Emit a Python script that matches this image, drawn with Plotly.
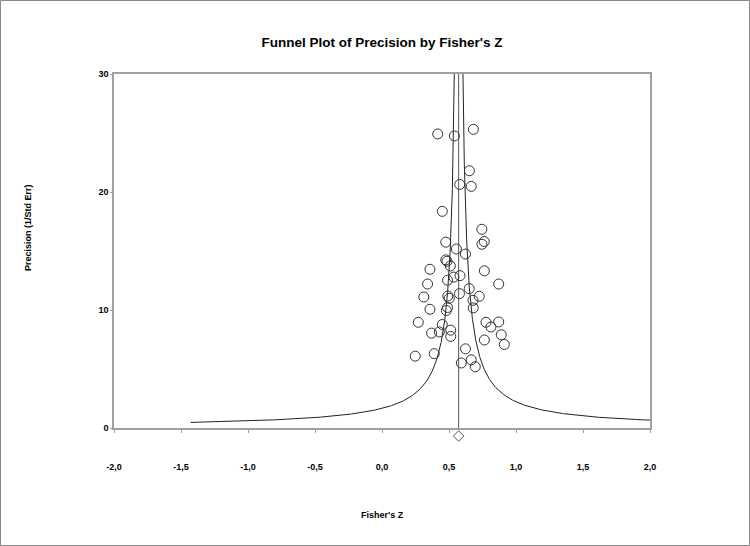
import numpy as np
import plotly.graph_objects as go

# Study effects (Fisher's Z) and precision (1/SE)
fisher_z = [0.416, 0.540, 0.682, 0.652, 0.580, 0.666, 0.450, 0.745, 0.763, 0.746,
            0.476, 0.555, 0.623, 0.476, 0.485, 0.510, 0.358, 0.764, 0.582, 0.536,
            0.489, 0.340, 0.871, 0.312, 0.491, 0.502, 0.578, 0.651, 0.726, 0.679,
            0.681, 0.358, 0.489, 0.480, 0.271, 0.450, 0.428, 0.370, 0.513, 0.513,
            0.776, 0.813, 0.871, 0.890, 0.764, 0.913, 0.390, 0.248, 0.623, 0.592,
            0.666, 0.696]
precision = [24.92, 24.75, 25.31, 21.80, 20.64, 20.48, 18.36, 16.84, 15.80, 15.57,
             15.75, 15.17, 14.74, 14.25, 14.13, 13.73, 13.45, 13.32, 12.91, 12.79,
             12.52, 12.20, 12.20, 11.10, 11.18, 10.99, 11.39, 11.81, 11.16, 10.82,
             10.18, 10.06, 10.21, 9.96, 8.96, 8.77, 8.14, 8.04, 8.29, 7.76,
             8.96, 8.56, 8.99, 7.90, 7.46, 7.08, 6.30, 6.09, 6.71, 5.51,
             5.78, 5.19]

pooled_z = 0.572
funnel_k = 0.95
diamond_y = -0.68

x_ticks = [-2.0, -1.5, -1.0, -0.5, 0.0, 0.5, 1.0, 1.5, 2.0]
x_tick_text = ['-2,0', '-1,5', '-1,0', '-0,5', '0,0', '0,5', '1,0', '1,5', '2,0']
y_ticks = [0, 10, 20, 30]

# funnel limits: pooled +/- k / precision
p_grid = np.geomspace(0.475, 32, 400)
left_z = pooled_z - funnel_k / p_grid
right_z = pooled_z + funnel_k / p_grid

FONT = 'Arial, "Liberation Sans", sans-serif'
AXIS_GRAY = '#a0a0a0'

W, H = 750, 546
ml, mr, mt, mb = 114, 100, 74, 98
pw, ph = W - ml - mr, H - mt - mb
gap = 20  # extra strip under the axis for the pooled-estimate diamond
y_lo = ph - gap  # pixel height of the main y axis
y_bottom_px = mt + ph  # paper bottom in pixels

fig = go.Figure()

fig.add_trace(go.Scatter(x=left_z, y=p_grid, mode='lines',
                         line=dict(color='#222222', width=1), hoverinfo='skip'))
fig.add_trace(go.Scatter(x=right_z, y=p_grid, mode='lines',
                         line=dict(color='#222222', width=1), hoverinfo='skip'))
fig.add_trace(go.Scatter(x=[pooled_z, pooled_z], y=[0, 30], mode='lines',
                         line=dict(color='#555555', width=1), hoverinfo='skip'))

fig.add_trace(go.Scatter(
    x=fisher_z, y=precision, mode='markers',
    marker=dict(symbol='circle-open', size=10, color='#333333',
                line=dict(width=1, color='#333333'))
))

# diamond sits just below the axis: drawn on a hidden axis with the same scale
fig.add_trace(go.Scatter(
    x=[pooled_z], y=[diamond_y], mode='markers', yaxis='y2',
    marker=dict(symbol='diamond-open', size=8, color='#555555',
                line=dict(width=1, color='#555555'))
))

fig.update_layout(
    width=W, height=H,
    margin=dict(l=ml, r=mr, t=mt, b=mb),
    paper_bgcolor='white', plot_bgcolor='rgba(0,0,0,0)',
    showlegend=False,
    font=dict(family=FONT, color='black', size=9),
    title=dict(text='<b>Funnel Plot of Precision by Fisher\'s Z</b>',
               x=382 / W, xanchor='center', y=1 - 42 / H, yanchor='middle',
               font=dict(size=13.5, family=FONT, color='black')),
    xaxis=dict(range=[-2, 2], tickvals=x_ticks, ticktext=x_tick_text,
               anchor='y',
               showgrid=False, zeroline=False, showline=True, mirror=True,
               linecolor=AXIS_GRAY, linewidth=1.5, ticks='outside', ticklen=3,
               tickcolor=AXIS_GRAY, ticklabelstandoff=26,
               tickfont=dict(size=9, family=FONT, weight='bold')),
    yaxis=dict(range=[0, 30], tickvals=y_ticks, domain=[gap / ph, 1],
               showgrid=False, zeroline=False, showline=True, mirror=True,
               linecolor=AXIS_GRAY, linewidth=1.5, ticks='outside', ticklen=2,
               tickcolor=AXIS_GRAY,
               tickfont=dict(size=9, family=FONT, weight='bold')),
    yaxis2=dict(domain=[0, 1], range=[-30 * gap / y_lo, 30], visible=False,
                anchor='x', showgrid=False, zeroline=False),
    annotations=[
        dict(text='<b>Fisher\'s Z</b>', xref='paper', yref='paper',
             x=0.5, y=(y_bottom_px - 515) / ph, xanchor='center', yanchor='middle',
             showarrow=False, font=dict(size=9, family=FONT)),
        dict(text='<b>Precision (1/Std Err)</b>', xref='paper', yref='paper',
             x=(28 - ml) / pw, y=(y_bottom_px - 228) / ph, xanchor='center',
             yanchor='middle', textangle=-90, showarrow=False,
             font=dict(size=9, family=FONT)),
    ],
    shapes=[
        dict(type='rect', xref='paper', yref='paper',
             x0=(0.5 - ml) / pw, x1=(W - 0.5 - ml) / pw,
             y0=(y_bottom_px - (H - 0.5)) / ph, y1=(y_bottom_px - 0.5) / ph,
             line=dict(color='#888888', width=1)),
    ],
)

fig.write_html("out.html", config={'displayModeBar': False},
               post_script="document.body.style.margin='0';")
